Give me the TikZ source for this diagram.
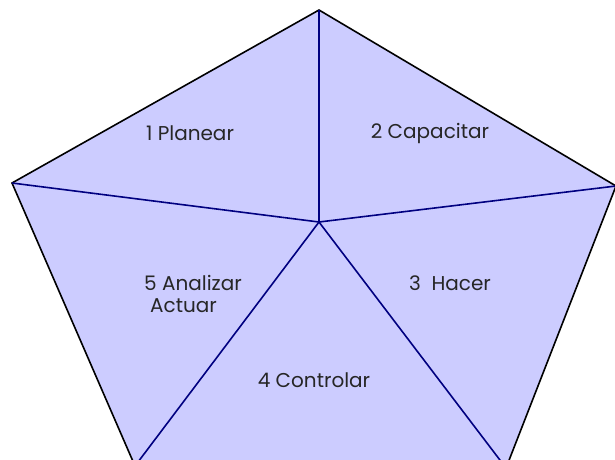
\documentclass[tikz,border=0pt]{standalone}
\usepackage{fontspec}
\setmainfont{Poppins}
\begin{document}
\begin{tikzpicture}[x=1pt,y=-1pt,
  outer/.style={draw=black,line width=1.6pt,fill=fillc},
  inner/.style={draw=navyc,line width=1.6pt},
  lbl/.style={font=\fontsize{20}{23}\selectfont,text=black!85,inner sep=0pt}]
\definecolor{fillc}{HTML}{CCCCFF}
\definecolor{navyc}{HTML}{000080}
\useasboundingbox (0,0) rectangle (615,459);
\clip (0,0) rectangle (615,459);
\coordinate (T) at (319,10);
\coordinate (L) at (12,183);
\coordinate (R) at (616,186);
\coordinate (BL) at (135,466);
\coordinate (BR) at (506,468);
\coordinate (C) at (319,222);
\draw[outer] (T) -- (R) -- (BR) -- (BL) -- (L) -- cycle;
\draw[inner] (C) -- (T);
\draw[inner] (C) -- (L);
\draw[inner] (C) -- (R);
\draw[inner] (C) -- (BL);
\draw[inner] (C) -- (BR);
\node[lbl] (n1) at (190,133) {1 Planear};
\node[lbl] (n2) at (430,133) {2 Capacitar};
\node[lbl] (n3) at (450,283) {3\ \ Hacer};
\node[lbl] (n4) at (314,380) {4 Controlar};
\node[lbl,anchor=west] (n5a) at (144,283) {5 Analizar};
\node[lbl,anchor=west] (n5b) at (150,306) {Actuar};
\end{tikzpicture}
\end{document}
